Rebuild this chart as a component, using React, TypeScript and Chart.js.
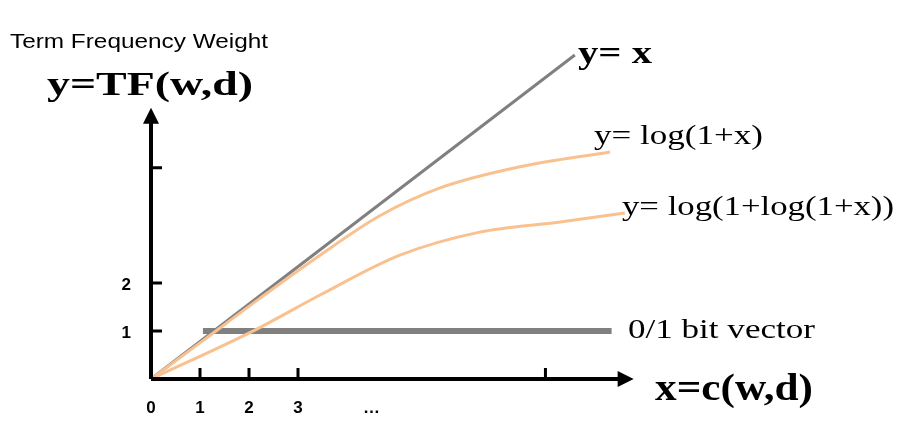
import { useEffect, useRef } from 'react'
import { Chart, registerables } from 'chart.js'

Chart.register(...registerables)

// curves (x = c(w,d), y = TF)
const linearPts = [{ x: 0, y: 0 }, { x: 8.65, y: 6.75 }]
const logPts = [
  { x: 0, y: 0 }, { x: 1.06, y: 0.8 }, { x: 2.22, y: 1.68 }, { x: 3.45, y: 2.58 },
  { x: 4.67, y: 3.4 }, { x: 5.9, y: 3.98 }, { x: 7.53, y: 4.42 }, { x: 9.37, y: 4.73 },
]
const logLogPts = [
  { x: 0, y: 0 }, { x: 2.12, y: 1.02 }, { x: 3.45, y: 1.75 }, { x: 5.08, y: 2.58 },
  { x: 6.71, y: 3.06 }, { x: 8.35, y: 3.27 }, { x: 9.67, y: 3.46 },
]
const bitPts = [{ x: 1.06, y: 1 }, { x: 9.4, y: 1 }]

const xTicks = [1, 2, 3, 8.05]
const xTickLabels = ['0', '1', '2', '3', '…']
const yTicks = [1, 2, 4.4]
const yTickLabels = ['1', '2']

const GRAY = '#808080'
const ORANGE = '#f9c18f'
const SERIF = '"Liberation Serif", "Times New Roman", serif'
const SANS = '"Liberation Sans", Arial, sans-serif'

// draws text stretched to the width it has in the reference
function wideText(ctx: CanvasRenderingContext2D, text: string, x: number, y: number, font: string, width: number) {
  ctx.font = font
  const w = ctx.measureText(text).width
  ctx.save()
  ctx.translate(x, y)
  ctx.scale(width / w, 1)
  ctx.fillText(text, 0, 0)
  ctx.restore()
}

const axesPlugin = {
  id: 'axes',
  afterDatasetsDraw(chart: Chart) {
    const ctx = chart.ctx
    const xs = chart.scales.x, ys = chart.scales.y
    const px = (v: number) => xs.getPixelForValue(v)
    const py = (v: number) => ys.getPixelForValue(v)
    const ox = px(0), oy = py(0)
    const xEnd = px(9.85), yEnd = py(5.65)
    ctx.save()
    ctx.strokeStyle = '#000'
    ctx.fillStyle = '#000'
    ctx.lineWidth = 4
    ctx.beginPath()
    ctx.moveTo(ox, oy); ctx.lineTo(xEnd - 10, oy)
    ctx.moveTo(ox, oy); ctx.lineTo(ox, yEnd + 10)
    ctx.stroke()
    ctx.beginPath()
    ctx.moveTo(xEnd, oy); ctx.lineTo(xEnd - 16, oy - 8); ctx.lineTo(xEnd - 16, oy + 8); ctx.closePath()
    ctx.moveTo(ox, yEnd); ctx.lineTo(ox - 8, yEnd + 16); ctx.lineTo(ox + 8, yEnd + 16); ctx.closePath()
    ctx.fill()
    ctx.lineWidth = 3
    ctx.beginPath()
    xTicks.forEach(t => { ctx.moveTo(px(t), oy); ctx.lineTo(px(t), oy - 11) })
    yTicks.forEach(t => { ctx.moveTo(ox, py(t)); ctx.lineTo(ox + 11, py(t)) })
    ctx.stroke()

    ctx.font = `bold 17px ${SANS}`
    ctx.textAlign = 'center'
    const xLabelPos = [0, 1, 2, 3, 4.5]
    xTickLabels.forEach((l, i) => ctx.fillText(l, px(xLabelPos[i]), 413))
    ctx.textAlign = 'right'
    yTickLabels.forEach((l, i) => ctx.fillText(l, ox - 20, py(yTicks[i]) + 7))

    ctx.textAlign = 'left'
    wideText(ctx, 'Term Frequency Weight', 10, 48, `20px ${SANS}`, 258)
    wideText(ctx, 'y=TF(w,d)', 47, 95, `bold 34px ${SERIF}`, 206)
    wideText(ctx, 'y= x', 578, 63, `bold 32px ${SERIF}`, 74)
    wideText(ctx, 'x=c(w,d)', 655, 400, `bold 38px ${SERIF}`, 158)
    wideText(ctx, 'y= log(1+x)', 594, 144, `27px ${SERIF}`, 169)
    wideText(ctx, 'y= log(1+log(1+x))', 622, 215, `27px ${SERIF}`, 272)
    wideText(ctx, '0/1 bit vector', 628, 338, `27px ${SERIF}`, 187)
    ctx.restore()
  },
}

export default function App() {
  const canvasRef = useRef<HTMLCanvasElement>(null)

  useEffect(() => {
    document.body.style.margin = '0'
    const canvas = canvasRef.current
    if (!canvas) return
    const line = (data: { x: number; y: number }[], color: string, width: number) => ({
      data, borderColor: color, borderWidth: width, pointRadius: 0,
      showLine: true, fill: false, cubicInterpolationMode: 'monotone' as const,
    })
    const chart = new Chart(canvas, {
      type: 'scatter',
      data: {
        datasets: [
          line(logLogPts, ORANGE, 3),
          line(logPts, ORANGE, 3),
          line(bitPts, GRAY, 6),
          line(linearPts, GRAY, 3),
        ],
      },
      options: {
        animation: false,
        responsive: false,
        layout: { padding: 0 },
        plugins: { legend: { display: false }, tooltip: { enabled: false } },
        scales: {
          x: { type: 'linear', display: false, min: -151 / 49, max: (906 - 151) / 49 },
          y: { type: 'linear', display: false, min: -(433 - 379) / 48, max: 379 / 48 },
        },
      },
      plugins: [axesPlugin],
    })
    return () => chart.destroy()
  }, [])

  return (
    <div style={{ width: 906, height: 433, background: '#fff' }}>
      <canvas ref={canvasRef} width={906} height={433} />
    </div>
  )
}
